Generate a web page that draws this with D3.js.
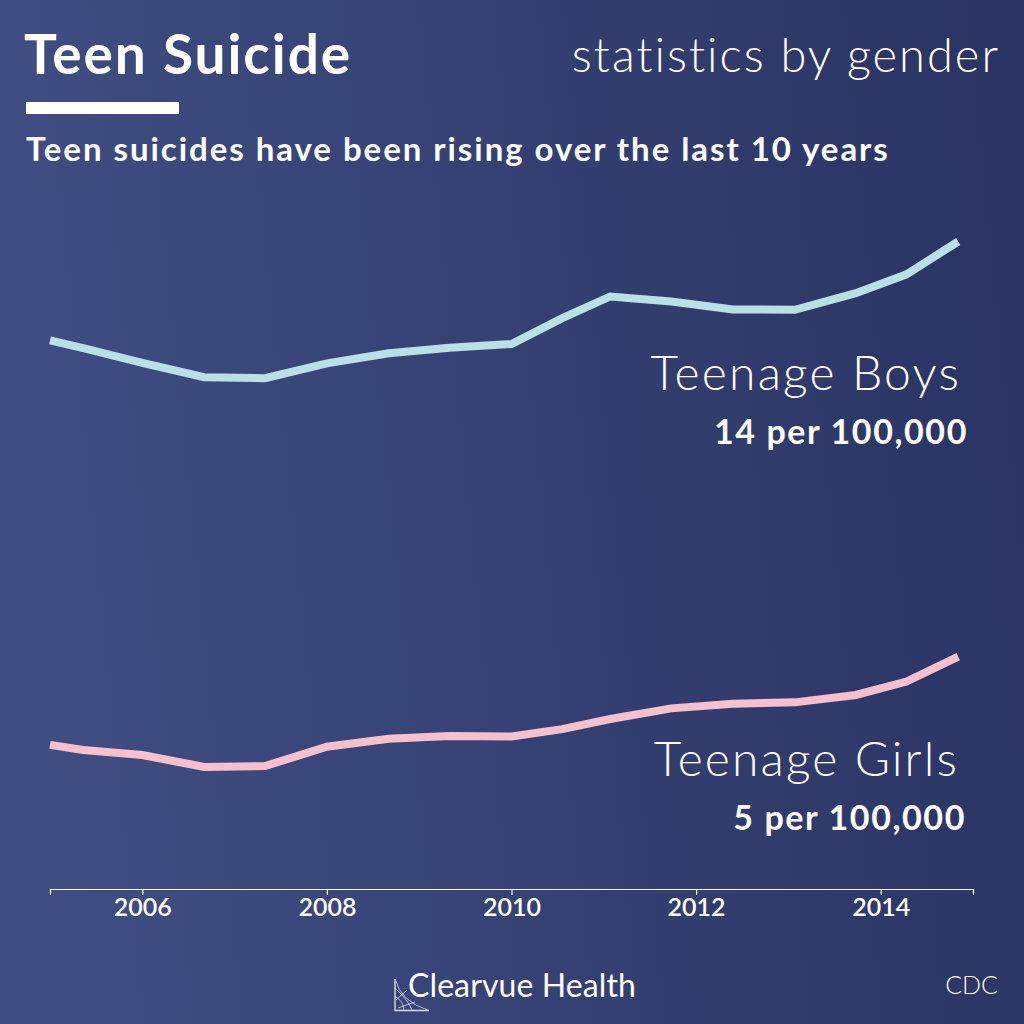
<!DOCTYPE html>
<html>
<head>
<meta charset="utf-8">
<script src="https://cdn.jsdelivr.net/npm/d3@7/dist/d3.min.js"></script>
<style>
html,body{margin:0;padding:0;background:#2b3464;overflow:hidden}
svg{display:block}
text{font-family:Lato,"Open Sans",sans-serif;fill:#fff}
</style>
</head>
<body>
<svg id="c" width="1024" height="1024"></svg>
<script>
const years = [2005, 2005.36, 2006, 2006.67, 2007.33, 2008, 2008.67, 2009.33, 2010, 2010.55, 2011.07, 2011.73, 2012.4, 2013.07, 2013.73, 2014.28, 2014.84];
const boys = [11.86, 11.69, 11.37, 11.06, 11.04, 11.36, 11.58, 11.70, 11.78, 12.34, 12.81, 12.70, 12.53, 12.52, 12.88, 13.29, 14.0];
const girls = [3.10, 2.99, 2.88, 2.62, 2.64, 3.06, 3.23, 3.29, 3.28, 3.44, 3.66, 3.89, 3.99, 4.02, 4.18, 4.47, 5.01];
const tickYears = [2006, 2008, 2010, 2012, 2014];

const svg = d3.select("#c");
const grad = svg.append("defs").append("linearGradient").attr("id","bg")
  .attr("x1","0").attr("y1","0.1").attr("x2","1").attr("y2","0");
grad.append("stop").attr("offset","0").attr("stop-color","#3f4d82");
grad.append("stop").attr("offset","1").attr("stop-color","#2a3362");
svg.append("rect").attr("width",1024).attr("height",1024).attr("fill","url(#bg)");

const x = d3.scaleLinear().domain([2005,2015]).range([50,973]);
const y = d3.scaleLinear().domain([0,14]).range([888,241.5]);
const line = d3.line().x((d,i)=>x(years[i])).y(d=>y(d));

[[boys,"#b9e0e5"],[girls,"#f6c1cc"]].forEach(([s,c])=>{
  svg.append("path").attr("d",line(s)).attr("fill","none").attr("stroke",c).attr("stroke-width",8).attr("stroke-linejoin","miter");
});

const axis = d3.axisBottom(x).tickValues(tickYears).tickFormat(d3.format("d")).tickSize(6).tickPadding(3);
const ax = svg.append("g").attr("transform","translate(0,889)").call(axis);
ax.selectAll("path,line").attr("stroke","#fff").attr("stroke-width",1.2);
ax.selectAll("text").style("font-family","Lato").style("font-size","25px").style("font-weight",600).attr("fill","#fff");

function label(t,xp,yp,size,weight,anchor,ls){
  return svg.append("text").attr("x",xp).attr("y",yp).attr("text-anchor",anchor||"start")
    .style("font-size",size+"px").style("font-weight",weight).style("letter-spacing",(ls||0)+"px").text(t);
}
label("Teen Suicide",24,74,55,700,"start",1.9);
label("statistics by gender",1000,72,47,300,"end",2);
svg.append("rect").attr("x",26).attr("y",102).attr("width",153).attr("height",12).attr("fill","#fff");
label("Teen suicides have been rising over the last 10 years",26,161,33,700,"start",1.95);
label("Teenage Boys",961,390,48,300,"end",2.2);
label("14 per 100,000",968,444,34,700,"end",1.6);
label("Teenage Girls",959,776,48,300,"end",2.15);
label("5 per 100,000",966,830,34,700,"end",1.6);
label("Clearvue Health",408,997,32,400,"start",0.1);
label("CDC",998,994,25,300,"end",0);

// logo
const logo = svg.append("g").attr("stroke","#d5dae8").attr("fill","none").attr("stroke-width",0.8);
logo.append("path").attr("d","M395 979 V1010.5 H429").attr("stroke-width",1.4);
logo.append("path").attr("d","M395 979 Q401 1002 429 1010.5");
logo.append("path").attr("d","M395 988 Q408 1000 412 1010");
logo.append("path").attr("d","M395 996 Q404 1002 404 1010");
logo.append("path").attr("d","M396 1000 L407 990 M398 1008 L415 1002");
</script>
</body>
</html>
